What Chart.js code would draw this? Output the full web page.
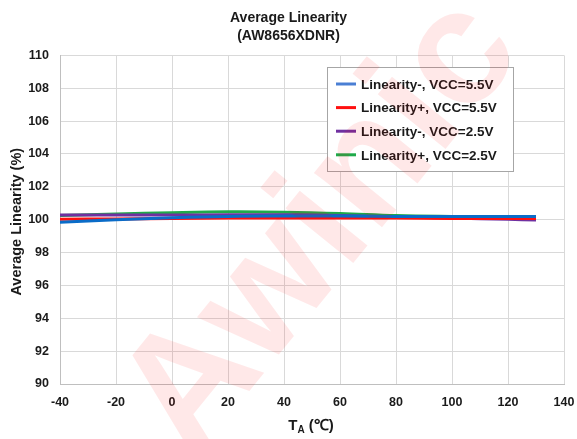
<!DOCTYPE html>
<html>
<head>
<meta charset="utf-8">
<script src="https://cdn.jsdelivr.net/npm/chart.js@4/dist/chart.umd.min.js"></script>
<style>
  html, body { margin: 0; padding: 0; background: #fff; }
  #wrap { width: 577px; height: 439px; position: relative; }
</style>
</head>
<body>
<div id="wrap"><canvas id="myChart"></canvas></div>
<script>
// Temperature points (x axis, deg C)
const temps = [-40, -20, 0, 20, 40, 60, 80, 100, 120, 130];

// Average linearity in %
const linMinus55 = [99.85, 100.0, 100.12, 100.2, 100.22, 100.22, 100.2, 100.2, 100.2, 100.2];
const linPlus55 = [100.02, 100.05, 100.07, 100.1, 100.1, 100.1, 100.1, 100.08, 100.07, 100.07];
const linMinus25 = [100.28, 100.28, 100.28, 100.3, 100.3, 100.25, 100.18, 100.1, 100.02, 99.98];
const linPlus25 = [100.25, 100.35, 100.43, 100.48, 100.46, 100.38, 100.25, 100.2, 100.18, 100.18];

const seriesNames = ["Linearity-, VCC=5.5V", "Linearity+, VCC=5.5V", "Linearity-, VCC=2.5V", "Linearity+, VCC=2.5V"];
const seriesColors = ["#0a6cc8", "#ff1010", "#7030a0", "#1faa4a"];
const legendColors = ["#4a7fd4", "#ff1010", "#7030a0", "#1faa4a"];

const xTicks = [-40, -20, 0, 20, 40, 60, 80, 100, 120, 140];
const yTicks = [90, 92, 94, 96, 98, 100, 102, 104, 106, 108, 110];

const FONT = "'Liberation Sans', Arial, sans-serif";

function toPoints(vals) {
  return temps.map((t, i) => ({ x: t, y: vals[i] }));
}

// legend box, axis titles and watermark drawn on the canvas
const extras = {
  id: "extras",
  afterDraw(chart) {
    const ctx = chart.ctx;
    const area = chart.chartArea;
    ctx.save();

    // legend box inside the plot
    const bx = 327, by = 67, bw = 186, bh = 104;
    ctx.fillStyle = "#fff";
    ctx.fillRect(bx, by, bw, bh);
    ctx.strokeStyle = "#a6a6a6";
    ctx.lineWidth = 1;
    ctx.strokeRect(bx + 0.5, by + 0.5, bw, bh);
    ctx.font = "bold 13.5px " + FONT;
    ctx.textBaseline = "middle";
    ctx.textAlign = "left";
    for (let i = 0; i < seriesNames.length; i++) {
      const yy = 84 + i * 23.6;
      ctx.strokeStyle = legendColors[i];
      ctx.lineWidth = 3;
      ctx.beginPath();
      ctx.moveTo(336, yy);
      ctx.lineTo(356, yy);
      ctx.stroke();
      ctx.fillStyle = "#1a1a1a";
      ctx.fillText(seriesNames[i], 361, yy + 1);
    }

    // y axis title
    ctx.fillStyle = "#1a1a1a";
    ctx.font = "bold 14.5px " + FONT;
    ctx.textAlign = "center";
    ctx.translate(17, (area.top + area.bottom) / 2 + 2);
    ctx.rotate(-Math.PI / 2);
    ctx.fillText("Average Linearity (%)", 0, 0);
    ctx.setTransform(1, 0, 0, 1, 0, 0);

    // x axis title with subscript
    ctx.textAlign = "left";
    ctx.font = "bold 15px " + FONT;
    const w1 = ctx.measureText("T").width;
    ctx.font = "bold 10px " + FONT;
    const w2 = ctx.measureText("A").width;
    ctx.font = "bold 15px " + FONT;
    const w3 = ctx.measureText(" (\u2103)").width;
    let sx = 311 - (w1 + w2 + w3) / 2;
    ctx.fillText("T", sx, 426);
    ctx.font = "bold 10px " + FONT;
    ctx.fillText("A", sx + w1, 430);
    ctx.font = "bold 15px " + FONT;
    ctx.fillText(" (\u2103)", sx + w1 + w2, 426);

    // watermark
    ctx.globalAlpha = 0.09;
    ctx.fillStyle = "#ff0000";
    ctx.font = "bold 165px " + FONT;
    ctx.textBaseline = "alphabetic";
    ctx.translate(192, 462);
    ctx.rotate(-51 * Math.PI / 180);
    ctx.fillText("Awinic", 0, 0);
    ctx.restore();
  }
};

const chart = new Chart("myChart", {
  type: "line",
  data: {
    datasets: [
      { label: seriesNames[0], data: toPoints(linMinus55), borderColor: seriesColors[0] },
      { label: seriesNames[1], data: toPoints(linPlus55), borderColor: seriesColors[1] },
      { label: seriesNames[2], data: toPoints(linMinus25), borderColor: seriesColors[2] },
      { label: seriesNames[3], data: toPoints(linPlus25), borderColor: seriesColors[3] }
    ]
  },
  options: {
    responsive: true,
    maintainAspectRatio: false,
    animation: false,
    elements: {
      line: { borderWidth: 3, tension: 0.4, fill: false },
      point: { radius: 0 }
    },
    layout: { padding: 0 },
    plugins: {
      legend: { display: false },
      tooltip: { enabled: false },
      title: {
        display: true,
        text: ["Average Linearity", "(AW8656XDNR)"],
        color: "#1a1a1a",
        font: { family: FONT, size: 14, weight: "bold", lineHeight: 1.3 },
        padding: { top: 9, bottom: 10 }
      }
    },
    scales: {
      x: {
        type: "linear",
        min: -40,
        max: 140,
        afterBuildTicks: (s) => { s.ticks = xTicks.map(v => ({ value: v })); },
        afterFit: (s) => { s.height = 55; s.paddingLeft = 0; s.paddingRight = 13; },
        grid: { color: "#d9d9d9", drawTicks: false },
        border: { color: "#bfbfbf" },
        ticks: { color: "#1a1a1a", padding: 11, font: { family: FONT, size: 12.5, weight: "bold" } }
      },
      y: {
        min: 90,
        max: 110,
        afterBuildTicks: (s) => { s.ticks = yTicks.map(v => ({ value: v })); },
        afterFit: (s) => { s.width = 60; s.paddingTop = 0; s.paddingBottom = 0; },
        grid: { color: "#d9d9d9", drawTicks: false },
        border: { color: "#bfbfbf" },
        ticks: { color: "#1a1a1a", padding: 11, font: { family: FONT, size: 12.5, weight: "bold" } }
      }
    }
  },
  plugins: [extras]
});
</script>
</body>
</html>
